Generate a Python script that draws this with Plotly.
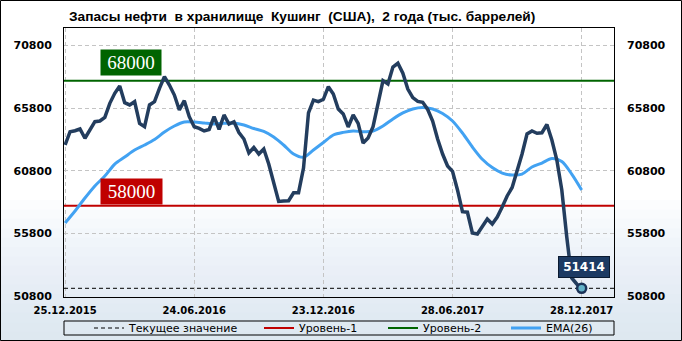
import plotly.graph_objects as go

# ---------------- data ----------------
title_text = "Запасы нефти\u00a0 в хранилище\u00a0 Кушинг\u00a0 (США),\u00a0 2 года (тыс. баррелей)"
tick_labels = ["25.12.2015", "24.06.2016", "23.12.2016", "28.06.2017", "28.12.2017"]
tick_positions = [0, 26, 52, 78, 104]

stocks = [62860, 63920, 64000, 64140, 63400, 64060, 64720, 64780, 65070, 66190,
          66990, 67570, 66240, 66060, 66320, 64590, 64320, 66060, 66320, 67390,
          68320, 67650, 66850, 65660, 66400, 65120, 64320, 64190, 63980, 64100,
          65120, 64110, 65260, 64540, 64720, 63860, 63340, 62220, 62660, 62140,
          62540, 61340, 59750, 58350, 58390, 58410, 59050, 59050, 61020, 65420,
          66450, 66320, 66510, 67520, 66930, 65740, 65340, 64300, 65260, 64590,
          63020, 63420, 64320, 66320, 68000, 67730, 69090, 69390, 68590, 67330,
          66640, 66340, 66270, 65700, 64780, 63340, 62140, 61180, 60760, 59270,
          57530, 57490, 55830, 55750, 56340, 56950, 56550, 57110, 57910, 58790,
          59470, 60700, 62140, 63740, 63980, 63800, 63840, 64500, 63260, 61660,
          59270, 55510, 52240, 51760, 51414]

ema_values = [56630, 57590, 58630, 59590, 60380, 61340, 61900, 62460, 62860, 63300,
              63900, 64380, 64700, 64700, 64620, 64540, 64590, 64620, 64460, 64180,
              63940, 63500, 62860, 62140, 61880, 62460, 63060, 63660, 63870, 63980,
              63920, 63980, 64380, 64940, 65420, 65740, 65860, 65740, 65380, 64780,
              63820, 62700, 61720, 61060, 60620, 60460, 60540, 61100, 61420, 61780,
              61540, 60540, 59270]
ema_step = 2

level_1 = 58000
level_2 = 68000
y_ticks = [50800, 55800, 60800, 65800, 70800]
y_tick_labels = ["50800", "55800", "60800", "65800", "70800"]

# ---------------- derived ----------------
x_idx = list(range(len(stocks)))
ema_idx = [i * ema_step for i in range(len(ema_values))]
current = stocks[-1]

X_RANGE = [-0.22, 110.51]
Y_RANGE = [50720, 72206]

W, H = 682, 341
ML, MR, MT, MB = 64, 68, 28, 44
PW, PH = W - ML - MR, H - MT - MB


def px_x(p):
    return (p - ML) / PW


def px_y(p):
    return (H - MB - p) / PH


NAVY = "#233d5e"
EMA_BLUE = "#42a2f2"
RED = "#c00000"
GREEN = "#006400"
GRID = "#c4c4c4"

fig = go.Figure()

# level / current lines (lower layer, y)
fig.add_trace(go.Scatter(x=X_RANGE, y=[current, current], mode="lines",
                         line=dict(color="black", width=1, dash="4px,3px"),
                         name="Текущее значение", legend="legend", hoverinfo="skip"))
fig.add_trace(go.Scatter(x=X_RANGE, y=[level_1, level_1], mode="lines",
                         line=dict(color=RED, width=2),
                         name="Уровень-1", legend="legend2", hoverinfo="skip"))
fig.add_trace(go.Scatter(x=X_RANGE, y=[level_2, level_2], mode="lines",
                         line=dict(color=GREEN, width=2),
                         name="Уровень-2", legend="legend3", hoverinfo="skip"))

# upper layer (y2)
fig.add_trace(go.Scatter(x=ema_idx, y=ema_values, mode="lines", yaxis="y2",
                         line=dict(color=EMA_BLUE, width=3, shape="spline", smoothing=0.8),
                         name="EMA(26)", legend="legend4"))
fig.add_trace(go.Scatter(x=x_idx, y=stocks, mode="lines", yaxis="y2",
                         line=dict(color=NAVY, width=3.5),
                         name="Запасы", showlegend=False))
fig.add_trace(go.Scatter(x=[x_idx[-1]], y=[current], mode="markers", yaxis="y2",
                         marker=dict(size=9, color="#63b3c9", line=dict(color="#1b3358", width=2.5)),
                         showlegend=False, hoverinfo="skip"))

# background gradient bands + frames
shapes = []
n_bands = 15
for k in range(n_bands):
    ytop = 200 + k * (141 / n_bands)
    shapes.append(dict(type="rect", xref="paper", yref="paper", layer="below",
                       x0=px_x(0), x1=px_x(W), y0=px_y(H), y1=px_y(ytop),
                       fillcolor="#cfe2f7", opacity=0.065, line=dict(width=0)))
# outer border
shapes.append(dict(type="rect", xref="paper", yref="paper",
                   x0=px_x(0.5), x1=px_x(W - 0.5), y0=px_y(H - 0.5), y1=px_y(0.5),
                   line=dict(color="black", width=1)))
# legend box
shapes.append(dict(type="rect", xref="paper", yref="paper",
                   x0=0, x1=1, y0=px_y(335), y1=px_y(321),
                   line=dict(color="black", width=1)))

annotations = [
    dict(text="68000", xref="paper", x=px_x(100), yref="y", y=level_2, yshift=18,
         showarrow=False, bgcolor=GREEN, width=58, height=23,
         font=dict(family="Liberation Serif", size=19, color="white")),
    dict(text="58000", xref="paper", x=px_x(99.5), yref="y", y=level_1, yshift=14.5,
         showarrow=False, bgcolor=RED, width=59, height=23,
         font=dict(family="Liberation Serif", size=19, color="white")),
    dict(text=f"<b>{current}</b>", xref="x", x=x_idx[-1], xshift=2,
         yref="y", y=current, yshift=21,
         showarrow=False, bgcolor="#1c3a63", bordercolor="#0a1a30", borderwidth=1,
         width=48, height=18,
         font=dict(family="DejaVu Sans", size=12, color="white")),
]

legend_common = dict(orientation="h", yanchor="middle", y=px_y(328), xanchor="left",
                     bgcolor="rgba(0,0,0,0)", borderwidth=0,
                     font=dict(family="DejaVu Sans", size=11, color="black"))
fig.update_layout(
    width=W, height=H,
    margin=dict(l=ML, r=MR, t=MT, b=MB, pad=0, autoexpand=False),
    paper_bgcolor="white", plot_bgcolor="rgba(0,0,0,0)",
    title=dict(text=f"<b>{title_text}</b>", xref="container", x=69 / W, xanchor="left",
               yref="container", y=1 - 16.5 / H, yanchor="middle",
               font=dict(family="Liberation Sans", size=13.7, color="black")),
    xaxis=dict(range=X_RANGE, tickmode="array", tickvals=tick_positions, ticktext=tick_labels,
               showgrid=True, gridcolor=GRID, griddash="4px,3px", gridwidth=1,
               zeroline=False, showline=True, mirror=True, linecolor="black", linewidth=1,
               ticks="", ticklabelstandoff=4, automargin=False,
               tickfont=dict(family="DejaVu Sans", size=10, color="black", weight="bold")),
    yaxis=dict(range=Y_RANGE, tickmode="array", tickvals=y_ticks, ticktext=y_tick_labels,
               showgrid=True, gridcolor=GRID, griddash="4px,3px", gridwidth=1,
               zeroline=False, showline=True, mirror=True, linecolor="black", linewidth=1,
               ticks="", ticklabelstandoff=9, automargin=False,
               tickfont=dict(family="DejaVu Sans", size=11, color="black", weight="bold")),
    yaxis2=dict(range=Y_RANGE, overlaying="y", side="right", tickmode="array",
                tickvals=y_ticks, ticktext=y_tick_labels, showgrid=False, zeroline=False,
                ticks="", ticklabelstandoff=12, automargin=False,
                tickfont=dict(family="DejaVu Sans", size=11, color="black", weight="bold")),
    legend=dict(**legend_common, x=px_x(134 - 45)),
    legend2=dict(**legend_common, x=px_x(304 - 45)),
    legend3=dict(**legend_common, x=px_x(428 - 45)),
    legend4=dict(**legend_common, x=px_x(551 - 45)),
    shapes=shapes,
    annotations=annotations,
    showlegend=True,
    hovermode=False,
)

fig.write_html("out.html")
